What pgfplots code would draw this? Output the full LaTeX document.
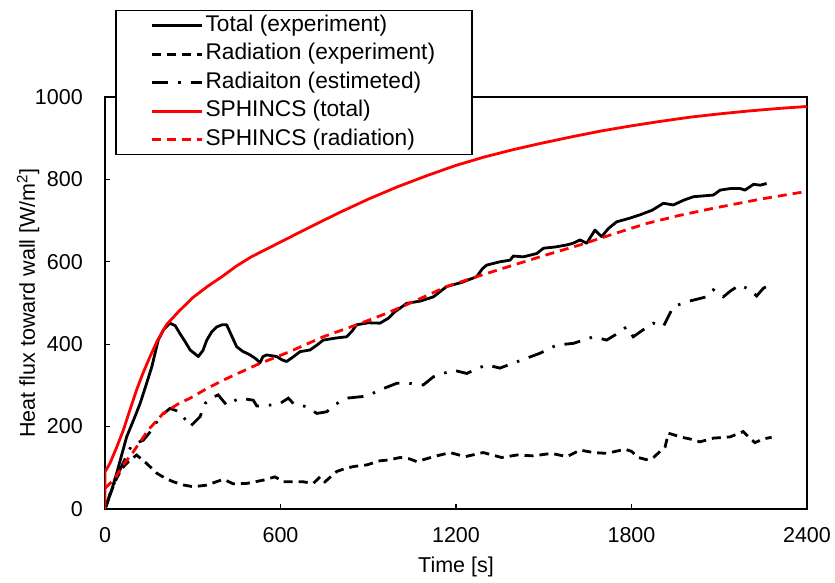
\documentclass[border=0pt]{standalone}
\usepackage{fontspec}
\setmainfont{Liberation Sans}
\usepackage{pgfplots}
\pgfplotsset{compat=1.18}
\begin{document}
\begin{tikzpicture}
\begin{axis}[
  scale only axis, width=702pt, height=412pt,
  at={(0pt,0pt)}, anchor=south west,
  xmin=0, xmax=2400, ymin=0, ymax=1000,
  xtick={0,600,...,2400}, ytick={0,200,...,1000},
  tick pos=left, tick align=inside, major tick length=5pt,
  every tick/.style={black, line width=1.2pt},
  axis line style={line width=1.5pt},
  font=\fontsize{21.5}{26}\selectfont,
  /pgf/number format/assume math mode=true,
  /pgf/number format/1000 sep={},
  xticklabel style={anchor=center, yshift=-26.5pt},
  yticklabel style={anchor=east, inner xsep=0pt, xshift=-22pt},
  xlabel={Time [s]},
  ylabel={Heat flux toward wall [W/m\textsuperscript{2}]},
  every axis x label/.style={at={(axis description cs:0.5,-0.1408)}, anchor=center},
  every axis y label/.style={at={(axis description cs:-0.1097,0.5)}, anchor=center, rotate=90},
  legend cell align=left,
  legend image code/.code={\draw[#1] (0pt,0pt) -- (50pt,0pt);},
  legend style={at={(axis description cs:0.01425,1.2112)}, anchor=north west,
    draw=black, line width=1.5pt, inner xsep=35pt, inner ysep=3pt,
    row sep=4.5pt, column sep=0pt, font=\fontsize{22.7}{27}\selectfont,
    nodes={text height=15.5pt, text depth=4.5pt, inner ysep=2pt, inner xsep=2pt}},
]
\addplot[black, line width=2.8pt, line join=round] coordinates {
(0,0)(20,40)(40,87)(74,175)(100,220)(120,256)(140,300)(160,345)(182,410)(200,435)(222,451)(240,445)(256,426)(275,405)(291,386)(319,370)(335,385)(348,410)(365,430)(382,442)(400,447)(416,447)(430,425)(450,394)(470,383)(496,374)(515,365)(530,355)(540,370)(553,374)(570,372)(587,370)(605,362)(621,358)(645,370)(667,382)(701,386)(725,398)(746,410)(790,415)(826,418)(845,432)(860,447)(900,452)(940,451)(969,463)(990,478)(1031,499)(1080,505)(1123,515)(1168,540)(1220,550)(1271,564)(1290,583)(1305,592)(1350,600)(1385,604)(1396,614)(1430,612)(1476,620)(1499,633)(1540,636)(1579,641)(1600,645)(1624,653)(1647,645)(1660,660)(1675,677)(1698,661)(1720,680)(1749,697)(1790,705)(1829,714)(1870,725)(1909,742)(1943,738)(1980,750)(2012,758)(2080,762)(2103,774)(2140,778)(2171,778)(2188,774)(2217,788)(2240,786)(2262,790)
};
\addlegendentry{Total (experiment)}
\addplot[black, line width=2.8pt, dash pattern=on 9pt off 6pt] coordinates {
(0,0)(20,40)(40,75)(60,100)(80,115)(108,131)(140,112)(177,87)(205,75)(234,66)(270,58)(302,54)(348,58)(380,66)(405,72)(439,61)(484,62)(541,70)(581,78)(610,66)(650,66)(678,66)(712,62)(735,78)(752,66)(792,91)(820,98)(849,103)(895,107)(940,117)(969,119)(1009,125)(1040,122)(1066,115)(1123,127)(1180,137)(1231,127)(1293,137)(1356,125)(1408,131)(1464,129)(1527,135)(1579,127)(1624,143)(1670,137)(1715,135)(1778,145)(1800,140)(1823,125)(1850,120)(1875,125)(1915,151)(1926,184)(1945,180)(1966,175)(2000,170)(2034,163)(2080,172)(2137,175)(2182,188)(2200,175)(2222,161)(2250,170)(2279,174)
};
\addlegendentry{Radiation (experiment)}
\addplot[black, line width=2.8pt, dash pattern=on 16pt off 10pt on 2.5pt off 10pt] coordinates {
(0,0)(11,22)(17,38)(51,95)(91,155)(131,167)(160,192)(188,224)(222,244)(256,236)(291,200)(325,224)(342,256)(365,270)(387,277)(416,252)(440,262)(462,269)(507,264)(519,250)(553,251)(598,256)(627,269)(644,256)(690,248)(724,232)(758,236)(790,255)(826,269)(895,274)(940,289)(997,305)(1040,305)(1088,301)(1123,321)(1191,337)(1237,329)(1270,340)(1305,350)(1350,342)(1430,363)(1487,378)(1544,398)(1601,402)(1670,418)(1715,410)(1750,425)(1783,442)(1806,418)(1840,435)(1875,451)(1909,443)(1943,491)(1989,503)(2057,515)(2080,532)(2114,515)(2140,530)(2171,544)(2205,532)(2228,517)(2251,536)(2285,548)
};
\addlegendentry{Radiaiton (estimeted)}
\addplot[red, line width=2.8pt, line join=round] coordinates {
(0,0)(0,90)(17,111)(40,150)(63,192)(85,240)(108,289)(130,330)(154,370)(180,410)(211,448)(250,478)(300,513)(350,540)(400,564)(450,590)(500,612)(600,648)(700,684)(800,719)(900,752)(1000,782)(1100,809)(1200,834)(1300,855)(1400,873)(1500,889)(1600,904)(1700,918)(1800,930)(1900,941)(2000,951)(2100,959)(2200,966)(2300,972)(2400,977)
};
\addlegendentry{SPHINCS (total)}
\addplot[red, line width=2.8pt, dash pattern=on 9pt off 6pt] coordinates {
(0,50)(34,74)(60,105)(97,139)(148,192)(199,232)(250,255)(291,269)(350,293)(405,313)(519,350)(632,382)(746,418)(860,447)(963,475)(1060,505)(1168,540)(1280,566)(1396,592)(1510,617)(1624,641)(1740,668)(1852,693)(1960,712)(2080,730)(2240,752)(2400,771)
};
\addlegendentry{SPHINCS (radiation)}
\end{axis}
\pgfresetboundingbox
\path[use as bounding box] (-105pt,-74pt) rectangle (730pt,509pt);
\end{tikzpicture}
\end{document}
